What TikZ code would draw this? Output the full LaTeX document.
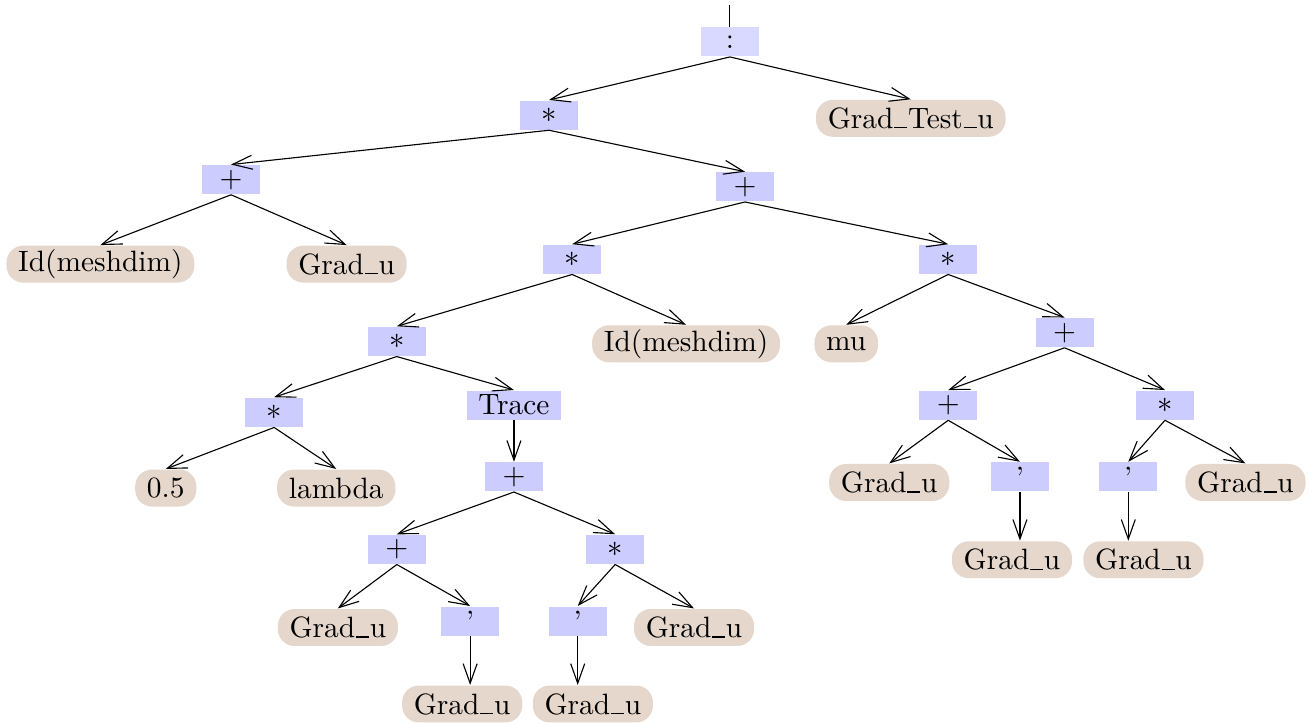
\documentclass[tikz,border=0pt]{standalone}
\usepackage{fontspec}
\usepackage{amsmath,amssymb}
\usepackage{tikz}
\usetikzlibrary{calc}
\usetikzlibrary{arrows.meta,shapes,positioning}
\tikzset{>={Straight Barb[length=7pt,width=5pt]}}
\definecolor{opbg}{RGB}{204,204,255}
\definecolor{rootbg}{RGB}{217,217,255}
\definecolor{leafbg}{RGB}{229,215,204}
\newcommand{\uscore}{\kern0.3pt\rule{4.6pt}{0.42pt}\kern0.3pt}
\tikzset{
	op/.style={fill=opbg, minimum width=20.7pt, minimum height=10.4pt, inner xsep=4.2pt, inner ysep=0pt},
	leaf/.style={fill=leafbg, rounded corners=6pt, minimum height=13.2pt, inner xsep=4.2pt, inner ysep=0pt},
	link/.style={->}
}

\begin{document}
\begin{tikzpicture}[font=\fontsize{10.5}{12}\selectfont]
	\useasboundingbox (0,0) rectangle (16.44,9.075);
	\coordinate (top) at (9.16,9.01);
	\node [op, fill=rootbg] (root) at (9.16,8.55) {:};
	\node [op] (mul1) at (6.89,7.63) {$*$};
	\node [leaf] (gtu) at (11.43,7.59) {Grad\uscore Test\uscore u};
	\node [op] (addL) at (2.90,6.82) {+};
	\node [op] (addR) at (9.35,6.73) {+};
	\node [leaf] (idL) at (1.26,5.76) {Id(meshdim)};
	\node [leaf] (gu1) at (4.35,5.76) {Grad\uscore u};
	\node [op] (mulA) at (7.18,5.82) {$*$};
	\node [op] (mulB) at (11.90,5.82) {$*$};
	\node [op] (mulC) at (4.98,4.79) {$*$};
	\node [leaf] (idR) at (8.61,4.76) {Id(meshdim)};
	\node [leaf] (mu) at (10.62,4.76) {mu};
	\node [op] (addC) at (13.36,4.90) {+};
	\node [op] (mulD) at (3.44,3.90) {$*$};
	\node [op] (trace) at (6.45,3.99) {Trace};
	\node [op] (addD) at (11.90,3.99) {+};
	\node [op] (mulE) at (14.62,3.99) {$*$};
	\node [leaf] (half) at (2.08,2.95) {0.5};
	\node [leaf] (lambda) at (4.22,2.95) {lambda};
	\node [op] (addE) at (6.45,3.09) {+};
	\node [leaf] (gu2) at (11.16,3.02) {Grad\uscore u};
	\node [op] (pr1) at (12.80,3.09) {'};
	\node [op] (pr2) at (14.16,3.09) {'};
	\node [leaf] (gu3) at (15.63,3.02) {Grad\uscore u};
	\node [op] (addF) at (4.98,2.18) {+};
	\node [op] (mulF) at (7.72,2.18) {$*$};
	\node [leaf] (gu4) at (12.70,2.05) {Grad\uscore u};
	\node [leaf] (gu5) at (14.35,2.05) {Grad\uscore u};
	\node [leaf] (gu6) at (4.24,1.20) {Grad\uscore u};
	\node [op] (pr3) at (5.90,1.28) {'};
	\node [op] (pr4) at (7.25,1.28) {'};
	\node [leaf] (gu7) at (8.71,1.20) {Grad\uscore u};
	\node [leaf] (gu8) at (5.80,0.24) {Grad\uscore u};
	\node [leaf] (gu9) at (7.44,0.24) {Grad\uscore u};
	\draw (top)--(root.north);
	\foreach \a/\b in {root/mul1, root/gtu, mul1/addL, mul1/addR, addL/idL, addL/gu1,
		addR/mulA, addR/mulB, mulA/mulC, mulA/idR, mulB/mu, mulB/addC,
		mulC/mulD, mulC/trace, addC/addD, addC/mulE, mulD/half, mulD/lambda,
		addD/gu2, addD/pr1, mulE/pr2, mulE/gu3, addE/addF, addE/mulF,
		addF/gu6, addF/pr3, mulF/pr4, mulF/gu7}
		\draw [link] (\a.south)--(\b.north);
	\foreach \a/\b in {trace/addE, pr1/gu4, pr2/gu5, pr3/gu8, pr4/gu9}
		\draw [link] (\a.south)--(\a.south |- \b.north);
\end{tikzpicture}
\end{document}
